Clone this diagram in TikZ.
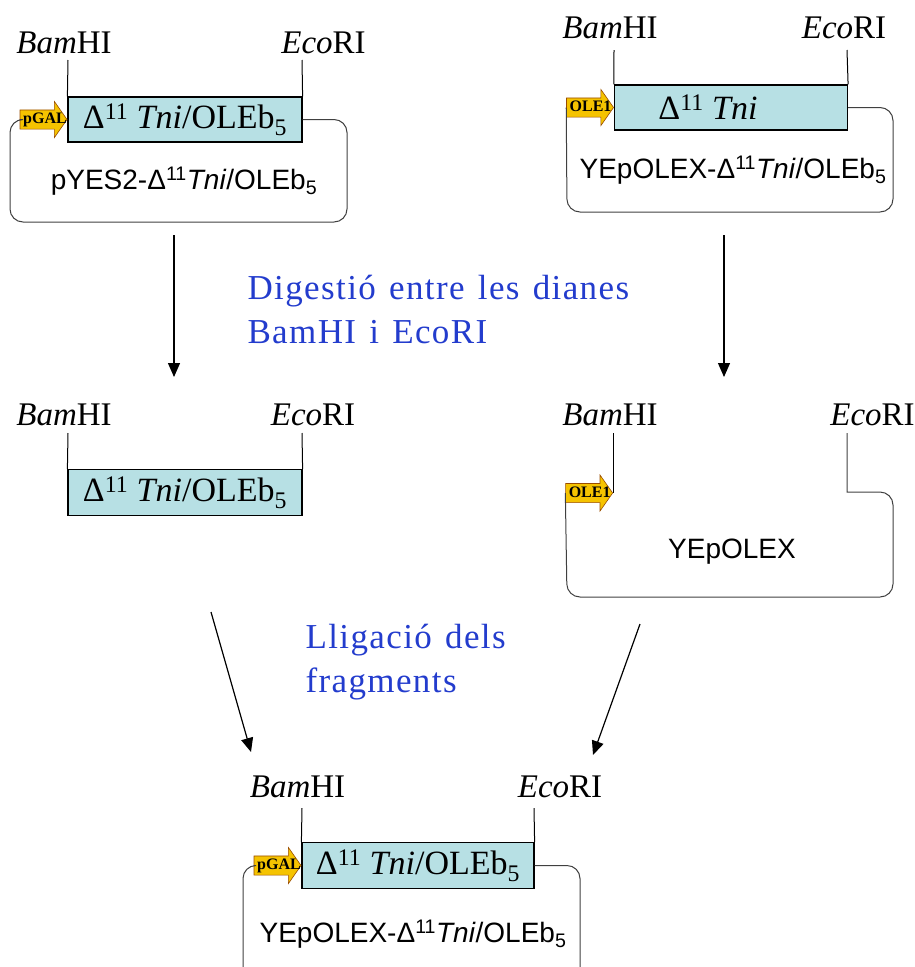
\documentclass[tikz,border=0pt]{standalone}
\usepackage{fontspec}
\setmainfont{Liberation Serif}
\setsansfont{Liberation Sans}
\newfontfamily\notefont{Liberation Serif}[LetterSpace=4, WordSpace=1.3]
\usetikzlibrary{shapes.arrows, arrows.meta, positioning}

\definecolor{insertblue}{RGB}{183,224,228}
\definecolor{promoyellow}{RGB}{245,195,0}
\definecolor{noteblue}{RGB}{35,60,205}

\newcommand{\tniole}{Δ\textsuperscript{11} \textit{Tni}/OLEb\textsubscript{5}}
\newcommand{\tniolesf}{Δ\textsuperscript{11}\textit{Tni}/OLEb\textsubscript{5}}
\newcommand{\promotext}[1]{\makebox[34pt][l]{#1}}

\begin{document}
\begin{tikzpicture}[x=1pt, y=-1pt, line width=1pt,
    insert/.style={draw, fill=insertblue, line width=1.2pt, minimum height=45pt, inner sep=0pt, font=\fontsize{34}{34}\selectfont},
    site/.style={anchor=base, inner sep=0pt, font=\fontsize{33}{33}\selectfont},
    promoter/.style={single arrow, draw=orange!60!black, fill=promoyellow, line width=0.6pt, anchor=tip,
        inner xsep=0pt, inner ysep=1.5pt, text height=12pt, text depth=3.5pt, minimum height=47pt,
        single arrow head extend=8.5pt, single arrow tip angle=110, font=\bfseries\fontsize{16}{16}\selectfont},
    backbone/.style={draw=black!75, rounded corners=13pt},
    plasmid/.style={inner sep=0pt, font=\sffamily\fontsize{28}{28}\selectfont},
    note/.style={anchor=base west, align=left, inner sep=0pt, text=noteblue,
        font=\notefont\fontsize{35}{44}\selectfont},
    flow/.style={-{Triangle[length=14pt, width=12pt]}, line width=1.2pt}]
    \useasboundingbox (0,0) rectangle (915,967);

    % pYES2 construct
    \node (ins1) [insert, minimum width=234pt] at (185,119.5) {\tniole};
    \node (pgal1) [promoter] at (ins1.west) {\promotext{pGAL}};
    \coordinate (bam1) at (68,60);
    \coordinate (eco1) at (302,60);
    \node (bamlbl1) [site] at (64,53) {\textit{Bam}HI};
    \node (ecolbl1) [site] at (323.5,53) {\textit{Eco}RI};
    \draw (bam1) -- (ins1.north west);
    \draw (eco1) -- (ins1.north east);
    \draw [backbone] (ins1.east) -- (347,119.5) -- (347,222) -- (10,222) -- (10,119.5) -- (pgal1.tail);
    \node (name1) [plasmid] at (184,181) {pYES2-\tniolesf};

    % YEpOLEX construct
    \node (ins2) [insert, minimum width=233pt] at (731,107.5) {};
    \node (tni2) [site, anchor=center, font=\fontsize{34}{34}\selectfont] at (708,107.5) {Δ\textsuperscript{11} \textit{Tni}};
    \node (ole1) [promoter] at (ins2.west) {\promotext{OLE1}};
    \coordinate (bam2) at (614,50);
    \coordinate (eco2) at (847,50);
    \node (bamlbl2) [site] at (610,38) {\textit{Bam}HI};
    \node (ecolbl2) [site] at (844,38) {\textit{Eco}RI};
    \draw (bam2) -- (ins2.north west);
    \draw (eco2) -- (ins2.north east);
    \draw [backbone] (ins2.east) -- (893,107.5) -- (893,212) -- (567,212) -- (ole1.tail);
    \node (name2) [plasmid] at (733,170) {YEpOLEX-\tniolesf};

    % digestion
    \coordinate (cut1a) at (174,235);
    \coordinate (cut1b) at (174,377);
    \coordinate (cut2a) at (724,235);
    \coordinate (cut2b) at (724,377);
    \draw [flow] (cut1a) -- (cut1b);
    \draw [flow] (cut2a) -- (cut2b);
    \node (note1) [note] at (247,343) {Digestió entre les dianes\\BamHI i EcoRI};

    % fragment
    \node (ins3) [insert, minimum width=234pt, minimum height=46pt] at (185,492.5) {\tniole};
    \coordinate (bam3) at (68,433);
    \coordinate (eco3) at (302,433);
    \node (bamlbl3) [site] at (64,425) {\textit{Bam}HI};
    \node (ecolbl3) [site] at (313,425) {\textit{Eco}RI};
    \draw (bam3) -- (ins3.north west);
    \draw (eco3) -- (ins3.north east);

    % opened vector
    \node (ole2) [promoter] at (613,493) {\promotext{OLE1}};
    \coordinate (bam4) at (613,433);
    \coordinate (eco4) at (847,433);
    \node (bamlbl4) [site] at (610,425) {\textit{Bam}HI};
    \node (ecolbl4) [site] at (872.5,425) {\textit{Eco}RI};
    \draw (bam4) -- (ole2.tip);
    \draw (eco4) -- (847,492) [backbone] -- (893,492) -- (893,597) -- (567,597) -- (ole2.tail);
    \node (name4) [plasmid] at (732,552) {YEpOLEX};

    % ligation
    \coordinate (lig1a) at (211,612);
    \coordinate (lig1b) at (251,752);
    \coordinate (lig2a) at (640,624);
    \coordinate (lig2b) at (593,755);
    \draw [flow] (lig1a) -- (lig1b);
    \draw [flow] (lig2a) -- (lig2b);
    \node (note2) [note] at (305,692) {Lligació dels\\fragments};

    % final construct
    \node (ins5) [insert, minimum width=232pt, minimum height=46pt] at (418,865.5) {\tniole};
    \node (pgal2) [promoter] at (ins5.west) {\promotext{pGAL}};
    \coordinate (bam5) at (302,808);
    \coordinate (eco5) at (534,808);
    \node (bamlbl5) [site] at (297.5,797) {\textit{Bam}HI};
    \node (ecolbl5) [site] at (560,797) {\textit{Eco}RI};
    \draw (bam5) -- (ins5.north west);
    \draw (eco5) -- (ins5.north east);
    \draw [backbone] (ins5.east) -- (580,865.5) -- (580,985) -- (243,985) -- (243,865.5) -- (pgal2.tail);
    \node (name5) [plasmid] at (413,934) {YEpOLEX-\tniolesf};
\end{tikzpicture}
\end{document}
